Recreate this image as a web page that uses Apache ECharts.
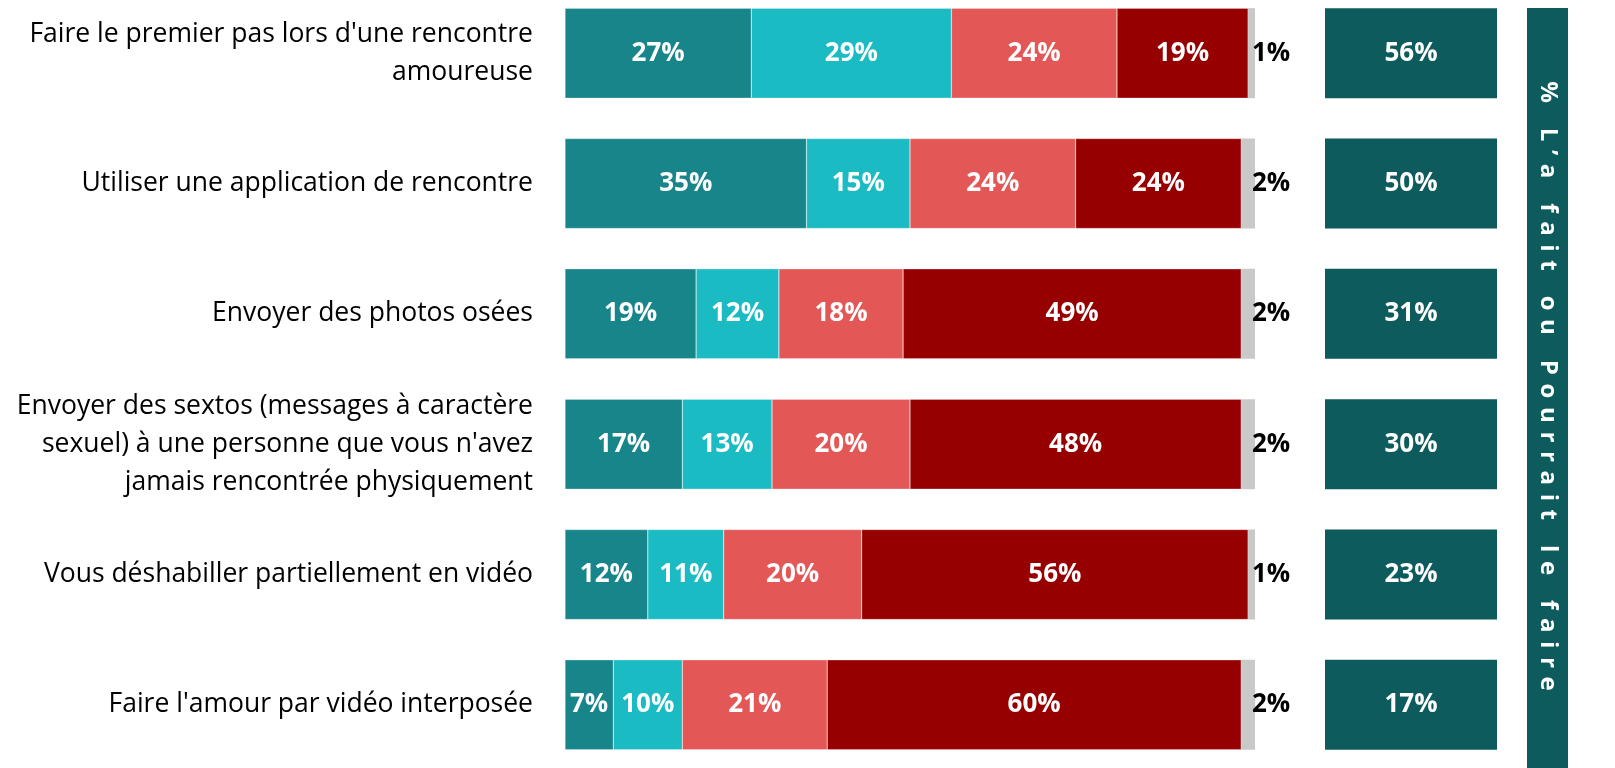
<!DOCTYPE html>
<html><head><meta charset="utf-8">
<script src="https://cdn.jsdelivr.net/npm/echarts@6/dist/echarts.min.js"></script>
<style>html,body{margin:0;padding:0;background:#fff}#c{width:1615px;height:768px}</style>
</head><body><div id="c"></div>
<script>
const categories = [
  "Faire le premier pas lors d'une rencontre\namoureuse",
  "Utiliser une application de rencontre",
  "Envoyer des photos osées",
  "Envoyer des sextos (messages à caractère\nsexuel) à une personne que vous n'avez\njamais rencontrée physiquement",
  "Vous déshabiller partiellement en vidéo",
  "Faire l'amour par vidéo interposée"
];
const seriesNames = ["Oui, déjà fait", "Non, mais pourrait le faire", "Non, probablement pas", "Non, certainement pas", "NSP"];
const s1 = [27, 35, 19, 17, 12, 7];
const s2 = [29, 15, 12, 13, 11, 10];
const s3 = [24, 24, 18, 20, 20, 21];
const s4 = [19, 24, 49, 48, 56, 60];
const s5 = [1, 2, 2, 2, 1, 2];
const totals = [56, 50, 31, 30, 23, 17];
const bannerTitle = "% L’a fait ou Pourrait le faire";

const colors = ["#17858A", "#1BBBC4", "#E35757", "#960000", "#C9C9C9"];
const FONT = "Open Sans";
const chart = echarts.init(document.getElementById('c'));
const values = [s1, s2, s3, s4, s5];
const series = values.map((arr, i) => ({
  name: seriesNames[i], type: 'bar', stack: 'a', xAxisIndex: 0, yAxisIndex: 0,
  barWidth: 90, data: arr,
  itemStyle: { color: colors[i], borderColor: 'rgba(255,255,255,0.5)', borderWidth: i === 4 ? 0 : 0.5 },
  label: i < 4 ? {
    show: true, position: 'inside', formatter: '{c}%', color: '#fff',
    fontFamily: FONT, fontWeight: 'bold', fontSize: 26
  } : {
    show: true, position: 'right', distance: -3, formatter: '{c}%', color: '#000',
    fontFamily: FONT, fontWeight: 'bold', fontSize: 26
  }
}));
series.push({
  name: 'total', type: 'bar', xAxisIndex: 1, yAxisIndex: 1, barWidth: 90,
  data: totals.map(t => ({ value: 1, total: t })),
  itemStyle: { color: '#0D5B5D' },
  label: { show: true, position: 'inside', color: '#fff', fontFamily: FONT, fontWeight: 'bold', fontSize: 26,
    formatter: p => totals[p.dataIndex] + '%' }
});
const spaced = bannerTitle.split(' ').map(w => w.split('').join(' \u200A')).join('    ');
chart.setOption({
  animation: false,
  textStyle: { fontFamily: FONT },
  grid: [
    { left: 565, width: 690, top: -12, bottom: -2, outerBoundsMode: 'none', containLabel: false },
    { left: 1325, width: 172, top: -12, bottom: -2, outerBoundsMode: 'none', containLabel: false }
  ],
  xAxis: [
    { gridIndex: 0, type: 'value', min: 0, max: 100, show: false },
    { gridIndex: 1, type: 'value', min: 0, max: 1, show: false }
  ],
  yAxis: [
    { gridIndex: 0, type: 'category', data: categories, inverse: true,
      axisLine: { show: false }, axisTick: { show: false },
      axisLabel: { margin: 32, color: '#000', fontSize: 26.5, fontFamily: FONT, lineHeight: 38, align: 'right' } },
    { gridIndex: 1, type: 'category', data: categories, inverse: true, show: false }
  ],
  graphic: [
    { type: 'rect', shape: { x: 1527, y: 8, width: 41, height: 760 }, style: { fill: '#0D5B5D' } },
    { type: 'text', x: 1548, y: 386, rotation: -Math.PI / 2,
      style: { text: spaced, fill: '#fff', font: 'bold 24px ' + FONT, textAlign: 'center', textVerticalAlign: 'middle' } }
  ],
  series
});
</script></body></html>
